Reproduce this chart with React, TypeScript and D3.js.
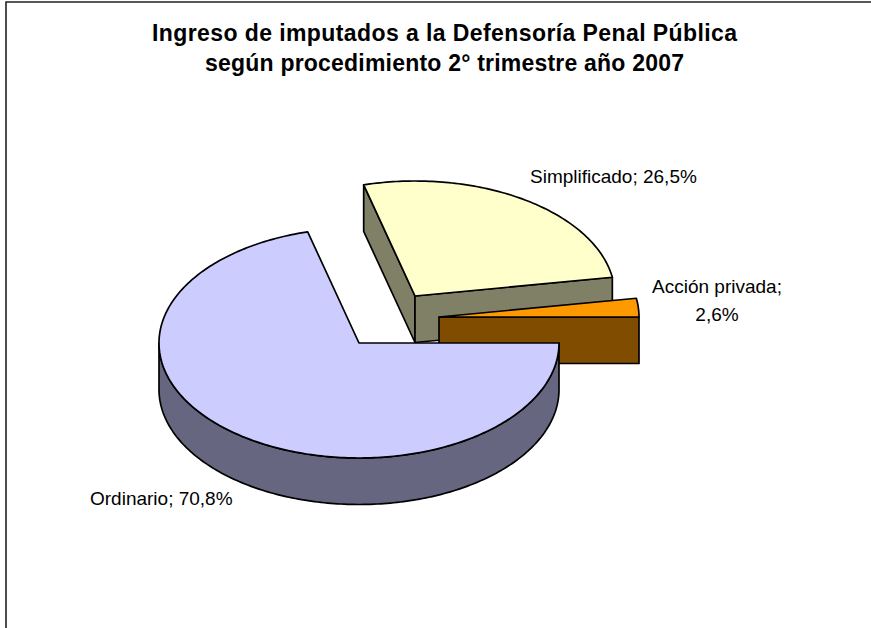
import React from "react";
import * as d3 from "d3";

const categories = ["Ordinario", "Simplificado", "Acción privada"];
const shares = [70.8, 26.5, 2.6];
const shareLabels = ["70,8%", "26,5%", "2,6%"];
const titleLines = [
  "Ingreso de imputados a la Defensoría Penal Pública",
  "según procedimiento 2° trimestre año 2007",
];

const topFills: Record<string, string> = {
  Ordinario: "#CCCCFF",
  Simplificado: "#FFFFCC",
  "Acción privada": "#FF9900",
};
const sideFills: Record<string, string> = {
  Ordinario: "#666680",
  Simplificado: "#808066",
  "Acción privada": "#804C00",
};
const explode: Record<string, [number, number]> = {
  Ordinario: [0, 0],
  Simplificado: [56, -47],
  "Acción privada": [80, -26],
};

const CX = 359, CY = 343, RX = 200, RY = 115, DEPTH = 46.5;
const font = "'Liberation Sans', Arial, sans-serif";
const titleWidths = [585, 479];

const pie = d3.pie<number>().sort(null).startAngle(Math.PI / 2).endAngle(Math.PI * 2.5);
const line = d3.line<[number, number]>();

function arcPoints(a0: number, a1: number, ox: number, oy: number): [number, number][] {
  const n = Math.max(2, Math.ceil(Math.abs(a1 - a0) * 60));
  return d3.range(n + 1).map((i) => {
    const a = a0 + ((a1 - a0) * i) / n;
    return [ox + RX * Math.sin(a), oy - RY * Math.cos(a)] as [number, number];
  });
}

function App() {
  const arcs = pie(shares);
  const order = [1, 2, 0];
  return (
    <svg
      width={871}
      height={628}
      style={{ position: "absolute", left: 0, top: 0, display: "block", background: "#fff" }}
    >
      <path d="M6,628 V2 H871" fill="none" stroke="#222" strokeWidth={1.6} />
      {titleLines.map((t, i) => (
        <text
          key={t}
          x={444.5}
          y={41 + i * 30}
          textAnchor="middle"
          fontFamily={font}
          fontWeight="bold"
          fontSize={23}
          textLength={titleWidths[i]}
          lengthAdjust="spacing"
          fill="#000"
        >
          {t}
        </text>
      ))}
      {order.map((idx) => {
        const d = arcs[idx];
        const name = categories[idx];
        const [dx, dy] = explode[name];
        const ox = CX + dx, oy = CY + dy;
        const faces: [number, number][][] = [];
        const tip = (a: number): [number, number] => [ox + RX * Math.sin(a), oy - RY * Math.cos(a)];
        const radial = (a: number): [number, number][] => {
          const p = tip(a);
          return [[ox, oy], p, [p[0], p[1] + DEPTH], [ox, oy + DEPTH]];
        };
        if (Math.sin(d.startAngle) < 0) faces.push(radial(d.startAngle));
        if (Math.sin(d.endAngle) > 0) faces.push(radial(d.endAngle));
        const lo = Math.max(d.startAngle, Math.PI / 2);
        const hi = Math.min(d.endAngle, (Math.PI * 3) / 2);
        if (hi > lo) {
          const pts = arcPoints(lo, hi, ox, oy);
          faces.push([...pts, ...pts.slice().reverse().map(([x, y]) => [x, y + DEPTH] as [number, number])]);
        }
        const top: [number, number][] = [[ox, oy], ...arcPoints(d.startAngle, d.endAngle, ox, oy)];
        return (
          <g key={name} stroke="#000" strokeWidth={1.7} strokeLinejoin="round">
            {faces.map((f, i) => (
              <path key={i} d={line(f) + "Z"} fill={sideFills[name]} />
            ))}
            <path d={line(top) + "Z"} fill={topFills[name]} />
          </g>
        );
      })}
      <g fontFamily={font} fontSize={19} fill="#000">
        <text x={530} y={183}>{`${categories[1]}; ${shareLabels[1]}`}</text>
        <text x={717} y={293} textAnchor="middle">{`${categories[2]};`}</text>
        <text x={717} y={321} textAnchor="middle">{shareLabels[2]}</text>
        <text x={90} y={505}>{`${categories[0]}; ${shareLabels[0]}`}</text>
      </g>
    </svg>
  );
}

export default App;
